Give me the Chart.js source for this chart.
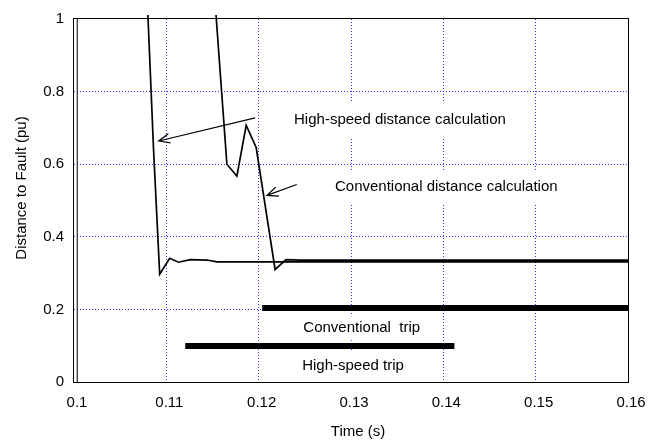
<!DOCTYPE html>
<html>
<head>
<meta charset="utf-8">
<script src="https://cdn.jsdelivr.net/npm/chart.js@4.4.1/dist/chart.umd.min.js"></script>
<style>
  body { margin: 0; background: #fff; }
</style>
</head>
<body>
<canvas id="faultChart" width="652" height="445"></canvas>
<script>
// distance estimates (time in s, distance in pu)
const highSpeedT = [0.10794, 0.10863, 0.10928, 0.11036, 0.11133, 0.11259, 0.1144, 0.11548, 0.16];
const highSpeedD = [1.05, 0.632, 0.297, 0.341, 0.330, 0.337, 0.336, 0.331, 0.331];
const convT = [0.11527, 0.11656, 0.11764, 0.11865, 0.11973, 0.12178, 0.12297, 0.1245, 0.16];
const convD = [1.05, 0.600, 0.567, 0.707, 0.646, 0.310, 0.337, 0.336, 0.336];
// fault inception marker
const faultT = [0.10035, 0.10035];
const faultD = [0, 1];
// trip signals
const convTripT = [0.12038, 0.1601];
const convTripD = [0.204, 0.204];
const hsTripT = [0.11205, 0.1412];
const hsTripD = [0.099, 0.099];

const xTickLabels = ["0.1", "0.11", "0.12", "0.13", "0.14", "0.15", "0.16"];
const yTickLabels = ["0", "0.2", "0.4", "0.6", "0.8", "1"];

// callouts: [text, t, d, half height of white box]
const notes = [
  ["High-speed distance calculation", 0.1353, 0.722, 18],
  ["Conventional distance calculation", 0.14032, 0.537, 16],
  ["Conventional  trip", 0.13116, 0.148, 12],
  ["High-speed trip", 0.13022, 0.0436, 15],
];
// arrows: [tailT, tailD, tipT, tipD]
const arrows = [
  [0.11962, 0.7275, 0.10917, 0.664],
  [0.12413, 0.544, 0.12089, 0.514],
];

const FONT = "'Liberation Sans', Arial, sans-serif";

function pts(xs, ys) {
  return xs.map((x, i) => ({ x: x, y: ys[i] }));
}

const notesPlugin = {
  id: "notes",
  beforeDatasetsDraw(chart) {
    const { ctx, scales } = chart;
    ctx.save();
    ctx.font = "15px " + FONT;
    ctx.textAlign = "center";
    ctx.textBaseline = "middle";
    for (const [text, t, d, padY] of notes) {
      const x = scales.x.getPixelForValue(t);
      const y = scales.y.getPixelForValue(d);
      const w = ctx.measureText(text).width;
      ctx.fillStyle = "#fff";
      ctx.fillRect(x - w / 2 - 4, y - padY, w + 8, padY * 2);
      ctx.fillStyle = "#000";
      ctx.fillText(text, x, y);
    }
    ctx.restore();
  },
  afterDatasetsDraw(chart) {
    const { ctx, scales, chartArea } = chart;
    ctx.save();
    ctx.strokeStyle = "#000";
    ctx.lineWidth = 1.2;
    for (const [t0, d0, t1, d1] of arrows) {
      const x0 = scales.x.getPixelForValue(t0), y0 = scales.y.getPixelForValue(d0);
      const x1 = scales.x.getPixelForValue(t1), y1 = scales.y.getPixelForValue(d1);
      const a = Math.atan2(y1 - y0, x1 - x0);
      ctx.beginPath();
      ctx.moveTo(x0, y0);
      ctx.lineTo(x1, y1);
      ctx.moveTo(x1 - 12 * Math.cos(a - 0.4), y1 - 12 * Math.sin(a - 0.4));
      ctx.lineTo(x1, y1);
      ctx.lineTo(x1 - 12 * Math.cos(a + 0.4), y1 - 12 * Math.sin(a + 0.4));
      ctx.stroke();
    }
    // box round the plot
    ctx.lineWidth = 1;
    ctx.strokeRect(chartArea.left - 0.5, chartArea.top - 0.5,
      chartArea.right - chartArea.left + 1, chartArea.bottom - chartArea.top + 1);
    // axis titles
    ctx.font = "15px " + FONT;
    ctx.fillStyle = "#000";
    ctx.textAlign = "center";
    ctx.textBaseline = "middle";
    ctx.fillText("Time (s)", 358, 432);
    ctx.translate(22, 188);
    ctx.rotate(-Math.PI / 2);
    ctx.fillText("Distance to Fault (pu)", 0, 0);
    ctx.restore();
  },
};

const gridColor = (c) =>
  c.index === 0 || c.index === c.scale.ticks.length - 1 ? "rgba(0,0,0,0)" : "#2f2ff5";

new Chart(document.getElementById("faultChart"), {
  type: "scatter",
  data: {
    datasets: [
      { data: pts(faultT, faultD), borderColor: "#000", borderWidth: 1 },
      { data: pts(highSpeedT, highSpeedD), borderColor: "#000", borderWidth: 1.7 },
      { data: pts(convT, convD), borderColor: "#000", borderWidth: 1.7 },
      { data: pts(convTripT, convTripD), borderColor: "#000", borderWidth: 6, borderCapStyle: "butt" },
      { data: pts(hsTripT, hsTripD), borderColor: "#000", borderWidth: 6, borderCapStyle: "butt" },
    ].map((ds) => Object.assign(ds, { showLine: true, pointRadius: 0, tension: 0, fill: false, clip: 4 })),
  },
  options: {
    responsive: false,
    animation: false,
    devicePixelRatio: 1,
    layout: { padding: { left: 0, top: 15, right: 24, bottom: 0 } },
    plugins: {
      legend: { display: false },
      tooltip: { enabled: false },
    },
    scales: {
      x: {
        type: "linear",
        min: 0.1,
        max: 0.16,
        border: { display: false, dash: [1, 2] },
        grid: { color: gridColor, lineWidth: 1, drawTicks: false },
        ticks: {
          stepSize: 0.01,
          padding: 12,
          labelOffset: 3,
          color: "#000",
          font: { family: FONT, size: 15 },
          maxRotation: 0,
          callback: (v, i) => xTickLabels[i],
        },
        afterFit: (scale) => {
          scale.height = 63;
          scale.paddingLeft = 0;
          scale.paddingRight = 0;
        },
      },
      y: {
        min: 0,
        max: 1,
        border: { display: false, dash: [1, 2] },
        grid: { color: gridColor, lineWidth: 1, drawTicks: false },
        ticks: {
          stepSize: 0.2,
          padding: 10,
          color: "#000",
          font: { family: FONT, size: 15 },
          callback: (v, i) => yTickLabels[i],
        },
        afterFit: (scale) => { scale.width = 74; },
      },
    },
  },
  plugins: [notesPlugin],
});
</script>
</body>
</html>
